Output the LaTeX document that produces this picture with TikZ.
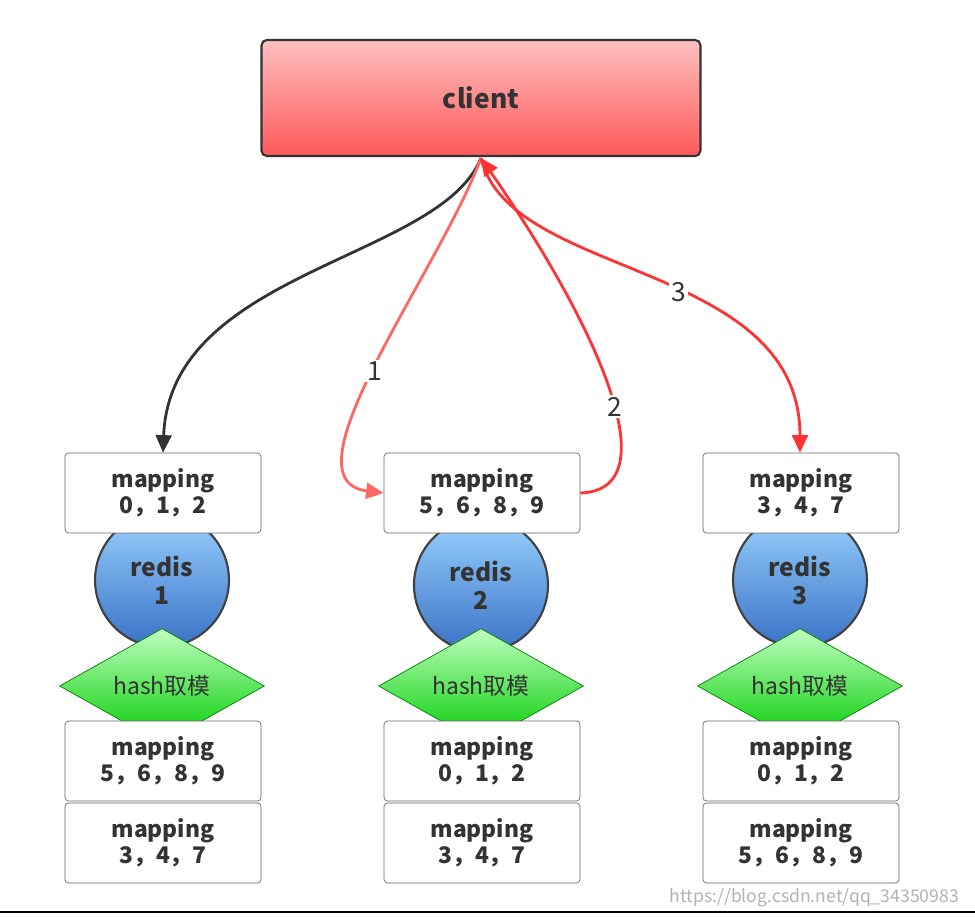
\documentclass[tikz,border=0pt]{standalone}
\usepackage{fontspec}
\setmainfont{Noto Sans CJK SC}
\usetikzlibrary{shapes.geometric,arrows.meta}
\begin{document}
\begin{tikzpicture}[x=0.02cm,y=-0.02cm,
 box/.style={draw=black!60,fill=white,rounded corners=2pt,minimum width=3.92cm,minimum height=1.6cm,align=center,text=black!80,font=\bfseries\fontsize{13}{15}\selectfont,inner sep=0pt},
 red/.style={draw=black!75,line width=1.2pt,circle,minimum size=2.68cm,top color=blue!45!cyan!40!white,bottom color=blue!60!cyan!55!gray,align=center,text=black!80,font=\bfseries\fontsize{14}{16}\selectfont,inner sep=0pt},
 dia/.style={diamond,aspect=1.8,draw=green!50!black,top color=green!25!white,bottom color=green!80!black,minimum width=4.1cm,minimum height=2.3cm,inner sep=0pt,text=black!80,font=\fontsize{13}{15}\selectfont},
 arr/.style={line width=1.6pt,-{Triangle[length=10pt,width=9pt]}},
 lab/.style={fill=white,inner sep=1pt,text=black!80,font=\fontsize{15}{17}\selectfont}]
\useasboundingbox (0,0) rectangle (975,917);
\fill[white] (0,0) rectangle (975,917);
\node[draw=black!80,line width=1.2pt,rounded corners=3pt,top color=red!25!white,bottom color=red!65!white,minimum width=8.78cm,minimum height=2.32cm,text=black!80,font=\bfseries\fontsize{15}{17}\selectfont] (client) at (481,98) {client};
\foreach \i/\x/\cy/\t/\ba/\bb in {1/162/580/{0，1，2}/{5，6，8，9}/{3，4，7},2/481/585/{5，6，8，9}/{0，1，2}/{3，4，7},3/800/580/{3，4，7}/{0，1，2}/{5，6，8，9}}{
 \node[red] (r\i) at (\x,\cy) {redis\\\i};
 \node[box] (m\i) at (\x+1,493) {mapping\\\t};
 \node[dia] (h\i) at (\x,686) {hash取模};
 \node[box] (a\i) at (\x+1,761) {mapping\\\ba};
 \node[box] (b\i) at (\x+1,843) {mapping\\\bb};
}
\coordinate (cb) at (481,158);
\draw[arr,black!80] (cb) .. controls (440,260) and (170,270) .. (m1.north -| 163,0);
\draw[arr,red!60] (cb) .. controls (440,270) and (280,480) .. node[lab,pos=0.52] {1} (m2.west);
\draw[arr,red!80] (m2.east) .. controls (670,490) and (600,330) .. node[lab,pos=0.45] {2} (cb);
\draw[arr,red!80] (cb) .. controls (510,280) and (800,260) .. node[lab,pos=0.56] {3} (m3.north -| 800,0);
\draw[black,line width=1pt] (0,912) -- (975,912);
\node[text=black!30,font=\fontsize{10}{12}\selectfont,anchor=east] at (965,898) {https://blog.csdn.net/qq\_34350983};
\end{tikzpicture}
\end{document}
